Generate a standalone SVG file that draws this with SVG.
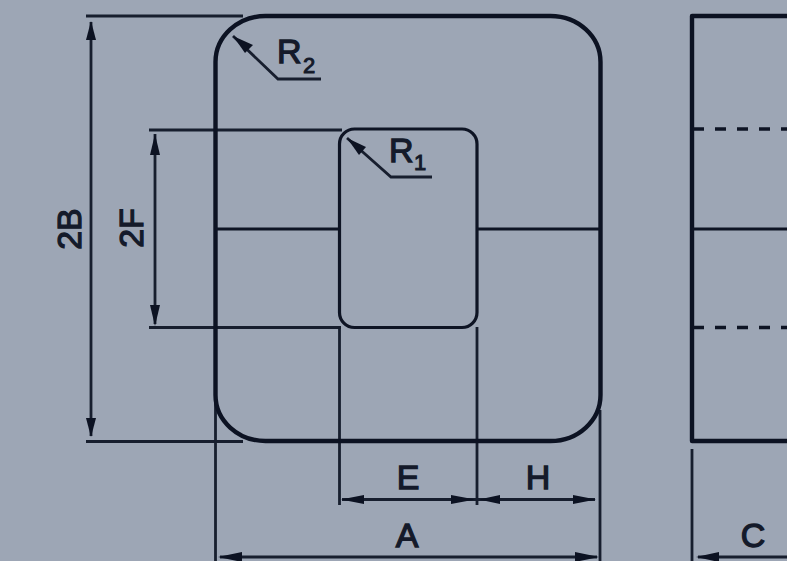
<svg xmlns="http://www.w3.org/2000/svg" width="787" height="561" viewBox="0 0 787 561">
<style>
.bg{fill:#9da6b5}
.thick{fill:none;stroke:#0c1222;stroke-width:4.4;stroke-linejoin:round}
.inner{fill:none;stroke:#0e1424;stroke-width:3.2}
.mid{fill:none;stroke:#0e1424;stroke-width:3}
.dim{fill:none;stroke:#171e2e;stroke-width:2.8}
.dash{fill:none;stroke:#0e1424;stroke-width:3.4;stroke-dasharray:11 11}
.head{fill:#0c1222}
text{font-family:"Liberation Sans",Arial,sans-serif;fill:#141a2a;font-size:34px;stroke:#141a2a;stroke-width:1.3}
.sub{font-size:22px;stroke-width:1}
</style>
<rect class="bg" width="787" height="561"/>
<g id="connectors">
<path class="dim" d="M86 16H243M86 441.500H243M149 130H342M149 327.500H341"/>
<path class="dim" d="M91 22V436M155 134V324"/>
<path class="dim" d="M215.500 400V561M339.500 327V505M477 327V505M600 410V561M692 449V561"/>
<path class="dim" d="M342 499.500H595M220 557H597M698 557H787"/>
<path class="dim" d="M233 36L278 79H321M347 138L391 177H432"/>
<g class="head">
<path d="M91 21L96 40H86Z"/><path d="M91 437L86 418H96Z"/>
<path d="M155 134L160 155H150Z"/><path d="M155 326L150 305H160Z"/>
<path d="M341 499.500L364 495V504Z"/><path d="M475 499.500L451 495V504Z"/>
<path d="M479 499.500L500 495V504Z"/><path d="M596 499.500L573 495V504Z"/>
<path d="M218 557L242 552V562Z"/><path d="M599 557L575 552V562Z"/><path d="M696 557L719 552V562Z"/>
<path d="M233 36L253 45L245 53Z"/><path d="M347 138L366 147L359 155Z"/>
</g>
</g>
<g id="front-view">
<rect class="thick" x="215.500" y="16" width="385" height="425" rx="50" ry="46"/>
<rect class="inner" x="339.500" y="129" width="137.500" height="198.500" rx="15" ry="15"/>
<path class="mid" d="M216 229H339M477 229H600"/>
</g>
<g id="side-view">
<path class="thick" d="M787 16H692V441H787"/>
<path class="mid" d="M692 229H787"/>
<path class="dash" d="M693 129H787M693 327.500H787"/>
</g>
<g id="label-R2"><text x="277" y="63">R</text><text class="sub" x="303" y="73">2</text></g>
<g id="label-R1"><text x="389" y="162">R</text><text class="sub" x="414" y="170">1</text></g>
<g id="label-2B"><text transform="translate(81 229) rotate(-90)" text-anchor="middle">2B</text></g>
<g id="label-2F"><text transform="translate(143 228) rotate(-90)" text-anchor="middle">2F</text></g>
<g id="label-E"><text x="408" y="489" text-anchor="middle">E</text></g>
<g id="label-H"><text x="538" y="489" text-anchor="middle">H</text></g>
<g id="label-A"><text x="407" y="547" text-anchor="middle">A</text></g>
<g id="label-C"><text x="753" y="547" text-anchor="middle">C</text></g>
</svg>
